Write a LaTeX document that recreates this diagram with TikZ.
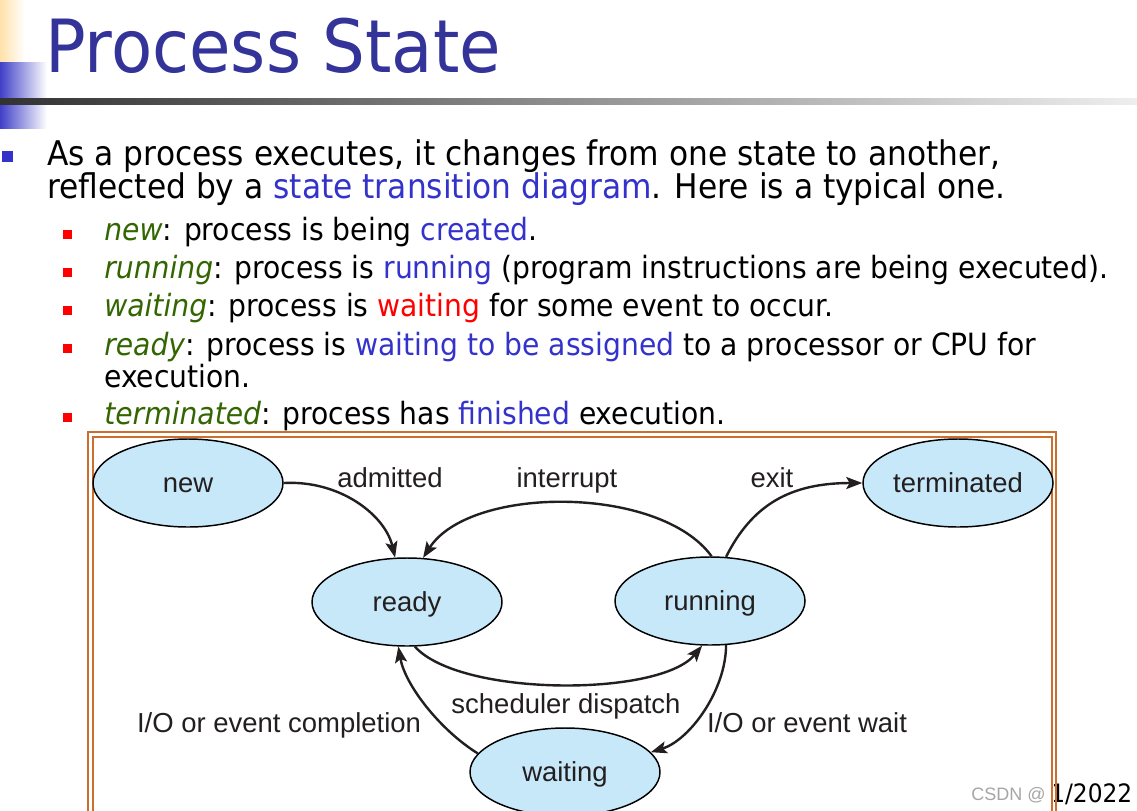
\documentclass[tikz,border=0pt]{standalone}
\usepackage{fontspec}
\setmainfont[FakeStretch=0.92]{DejaVu Sans}
\newfontfamily\arialf{Liberation Sans}
\usetikzlibrary{arrows.meta,shapes.geometric}
\definecolor{titleblue}{RGB}{51,51,153}
\definecolor{hlblue}{RGB}{51,51,204}
\definecolor{termgreen}{RGB}{51,102,0}
\definecolor{boxorange}{RGB}{204,110,45}
\definecolor{ellfill}{RGB}{199,232,248}
\definecolor{diagtext}{RGB}{35,31,32}
\definecolor{barred}{RGB}{255,0,0}
\definecolor{bulletblue}{RGB}{51,51,204}
\definecolor{paleyellow}{RGB}{255,225,170}
\definecolor{midblue}{RGB}{64,64,200}
\definecolor{darkline}{RGB}{50,50,50}
\definecolor{lightline}{RGB}{238,238,238}
\tikzset{
  titletxt/.style={anchor=base west, inner sep=0pt, text=titleblue, font=\fontsize{55}{60}\selectfont},
  maintxt/.style={anchor=base west, inner sep=0pt, text=black, font=\fontsize{25.5}{30}\selectfont},
  subtxt/.style={anchor=base west, inner sep=0pt, text=black, font=\fontsize{23}{27}\selectfont},
  st/.style={ellipse, draw=black, line width=1.1pt, fill=ellfill, minimum width=142.5pt, minimum height=66pt, inner sep=0pt, font=\arialf\fontsize{20.6}{24}\selectfont, text=diagtext, text height=14.2pt, text depth=0pt},
  lbl/.style={anchor=base, inner sep=0pt, font=\arialf\fontsize{20.6}{24}\selectfont, text=diagtext},
  tr/.style={line width=1.8pt, draw=diagtext, -{Stealth[length=12pt,width=9pt,inset=2.5pt]}},
  frame/.style={draw=boxorange, line width=1.5pt}
}
\newcommand{\term}[1]{\textcolor{termgreen}{\itshape #1}}
\newcommand{\hl}[1]{\textcolor{hlblue}{#1}}
\begin{document}
\begin{tikzpicture}[x=0.75pt,y=-0.75pt]
\useasboundingbox (0,0) rectangle (1137,810);
\clip (0,0) rectangle (1137,810);
\fill[white] (0,0) rectangle (1137,810);
% title decoration
\shade[left color=paleyellow, right color=white] (0,0) rectangle (25,62);
\shade[left color=midblue, right color=white] (0,62) rectangle (47,98);
\shade[left color=midblue, right color=white] (0,104) rectangle (47,128);
\shade[left color=darkline, right color=lightline] (0,98) rectangle (1137,104);
\node[titletxt] (title) at (45,72) {Process State};
% bullets
\fill[bulletblue] (2,151) rectangle (13,162);
\node[maintxt] (l1) at (47,165) {As a process executes, it changes from one state to another,};
\node[maintxt] (l2) at (47,198) {reflected by a \hl{state transition diagram}. Here is a typical one.};
\foreach \y in {230,268,306,344,413} {\fill[barred] (63,\y) rectangle (72,\y+9);}
\node[subtxt] (s1) at (104,240) {\term{new}: process is being \hl{created}.};
\node[subtxt] (s2) at (104,278) {\term{running}: process is \hl{running} (program instructions are being executed).};
\node[subtxt] (s3) at (104,316) {\term{waiting}: process is \textcolor{barred}{waiting} for some event to occur.};
\node[subtxt] (s4) at (104,355) {\term{ready}: process is \hl{waiting to be assigned} to a processor or CPU for};
\node[subtxt] (s5) at (104,387) {execution.};
\node[subtxt] (s6) at (104,424) {\term{terminated}: process has \hl{finished} execution.};
% date
\node[anchor=base west, inner sep=0pt, font=\fontsize{19}{22}\selectfont] (date) at (1050,802) {1/2022};
% frame
\fill[white] (90,434) rectangle (1054,830);
\draw[frame] (88,432) rectangle (1056,830);
\draw[frame] (92.5,436.5) rectangle (1051.5,830);
% states
\node[st] (new) at (188,483) {new};
\node[st] (term) at (958,483) {terminated};
\node[st] (ready) at (407,602) {ready};
\node[st] (running) at (710,601) {running};
\node[st] (waiting) at (565,772) {waiting};
% transitions
\draw[tr] (new.east) .. controls (340,480) and (385,515) .. (ready.105);
\draw[tr] (running.88) .. controls (660,485) and (470,485) .. (ready.70);
\draw[tr] (running.70) .. controls (752,505) and (790,483) .. (term.west);
\draw[tr] (ready.280) .. controls (460,697) and (660,697) .. (running.260);
\draw[tr] (running.290) .. controls (726,690) and (690,740) .. (waiting.13);
\draw[tr] (waiting.168) .. controls (440,730) and (405,685) .. (ready.259);
% labels
\node[lbl] (ladm) at (390,487) {admitted};
\node[lbl] (lint) at (567,487) {interrupt};
\node[lbl] (lexit) at (772,487) {exit};
\node[lbl] (lsched) at (566,713) {scheduler dispatch};
\node[lbl] (lcomp) at (279,732) {I/O or event completion};
\node[lbl] (lwait) at (807,732) {I/O or event wait};
% watermark
\node[anchor=base east, inner sep=0pt, font=\arialf\fontsize{13.5}{16}\selectfont, text=gray, opacity=0.7] (wm) at (1046,800) {CSDN @};
\end{tikzpicture}
\end{document}
